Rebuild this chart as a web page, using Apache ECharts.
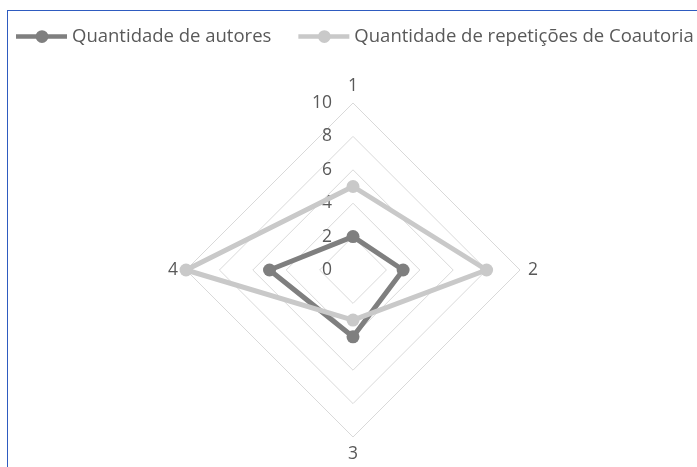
<!DOCTYPE html>
<html>
<head>
<meta charset="utf-8">
<script src="https://cdn.jsdelivr.net/npm/echarts@6/dist/echarts.min.js"></script>
<style>
  html, body { margin: 0; padding: 0; background: #fff; }
  #frame { position: absolute; left: 7px; top: 10px; width: 720px; height: 480px; border-left: 1px solid #2e5bc0; border-top: 1px solid #2e5bc0; }
  #main { position: absolute; left: 0; top: 0; width: 697px; height: 467px; }
</style>
</head>
<body>
<div id="frame"></div>
<div id="main"></div>
<script>
const indicators = ['1', '2', '3', '4'];
const maxValue = 10;
const autores = [2, 3, 4, 5];
const repeticoes = [5, 8, 3, 10];
const seriesNames = ['Quantidade de autores', 'Quantidade de repetições de Coautoria'];

// echarts lays radar axes out counter-clockwise, excel goes clockwise
const order = [0, 3, 2, 1];
const reorder = (arr) => order.map((i) => arr[i]);

// line + dot legend glyph
const lineIcon = 'path://M0,4 L52,4 L52,8.5 L0,8.5 Z M33,6.25 A6.5,6.5 0 1,1 20,6.25 A6.5,6.5 0 1,1 33,6.25 Z';

let chart = echarts.init(document.getElementById('main'));

let option = {
    backgroundColor: 'transparent',
    animation: false,
    legend: {
        left: 16,
        top: 27,
        width: 700,
        padding: 0,
        itemWidth: 51,
        itemHeight: 13,
        itemGap: 27,
        data: seriesNames.map((n) => ({name: n, icon: lineIcon})),
        textStyle: {
            fontFamily: 'Open Sans',
            fontSize: 18.5,
            color: '#595959'
        }
    },
    radar: {
        center: [353, 270],
        radius: 167,
        startAngle: 90,
        shape: 'polygon',
        splitNumber: 5,
        indicator: reorder(indicators).map((name) => ({
            name: name,
            min: 0,
            max: maxValue,
            axisLabel: {show: name === '1'}
        })),
        axisName: {
            color: '#595959',
            fontFamily: 'Open Sans',
            fontSize: 17.5
        },
        nameGap: 8,
        axisLine: {show: false},
        axisTick: {show: false},
        splitArea: {show: false},
        splitLine: {
            lineStyle: {color: '#d9d9d9', width: 1}
        },
        axisLabel: {
            color: '#595959',
            fontFamily: 'Open Sans',
            fontSize: 17.5,
            margin: 21
        }
    },
    series: [{
        type: 'radar',
        symbol: 'circle',
        symbolSize: 13,
        data: [
            {
                name: seriesNames[0],
                value: reorder(autores),
                itemStyle: {color: '#7f7f7f'},
                lineStyle: {color: '#7f7f7f', width: 5}
            },
            {
                name: seriesNames[1],
                value: reorder(repeticoes),
                itemStyle: {color: '#c9c9c9'},
                lineStyle: {color: '#c9c9c9', width: 5}
            }
        ]
    }]
};

chart.setOption(option);
</script>
</body>
</html>
